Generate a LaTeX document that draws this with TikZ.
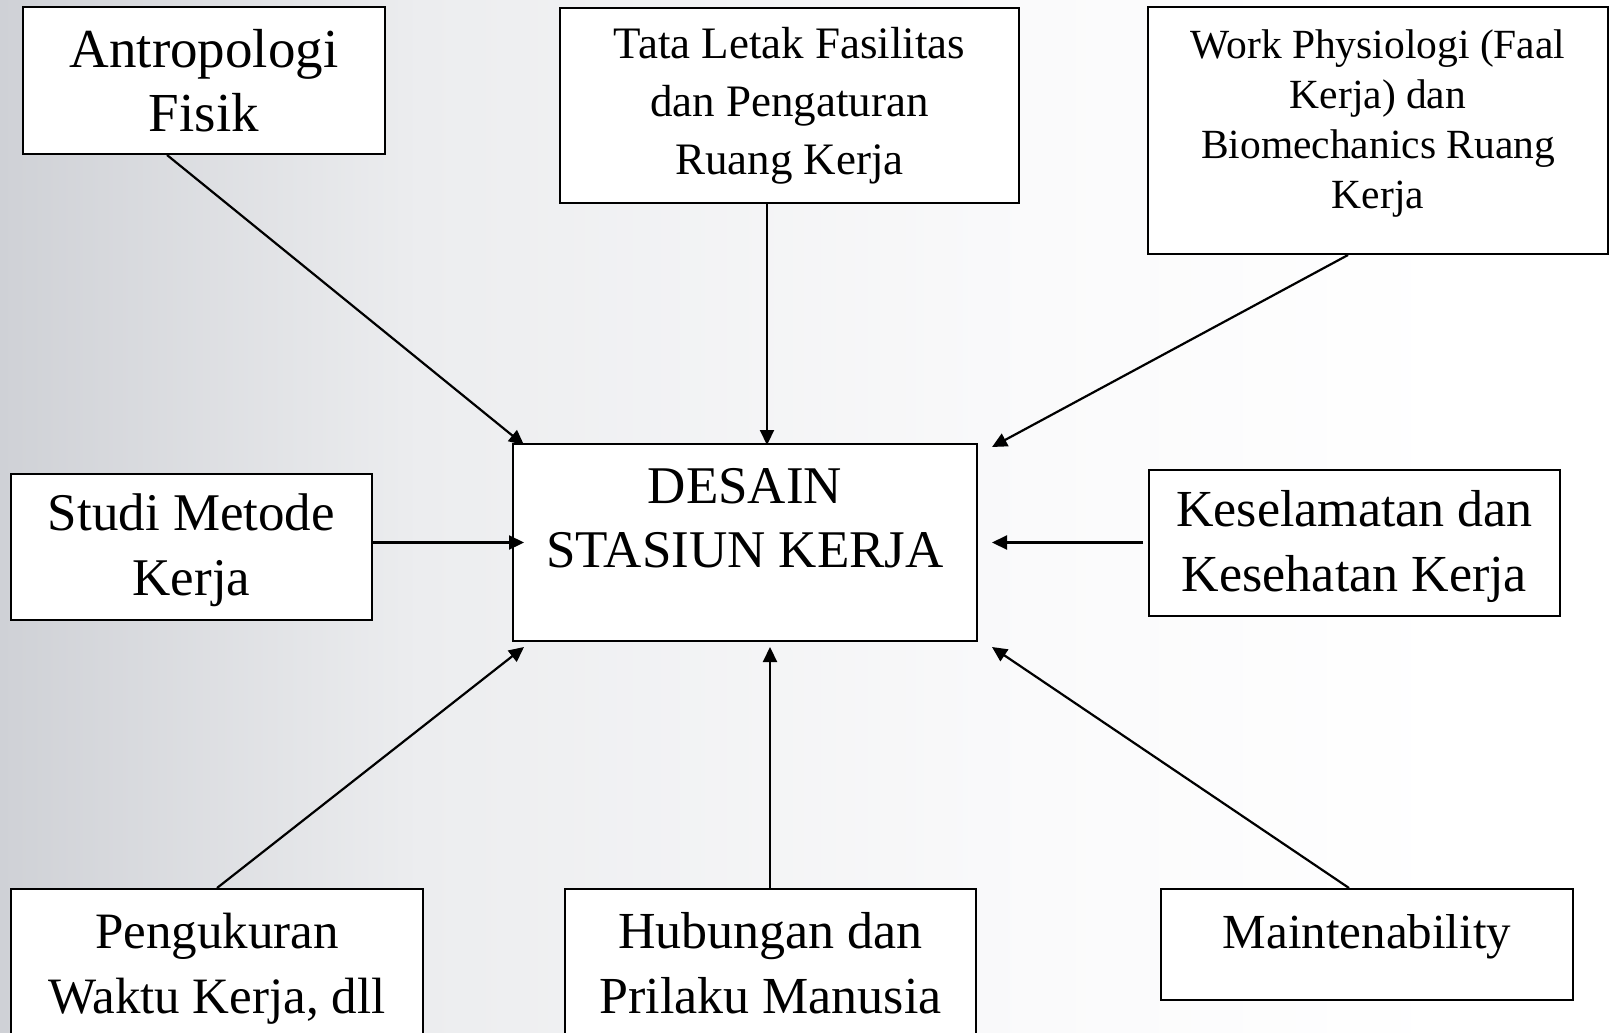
\documentclass[tikz,border=0pt]{standalone}
\usepackage{fontspec}
\setmainfont{Liberation Serif}
\usetikzlibrary{arrows.meta}
\definecolor{bgA}{RGB}{207,209,214}
\definecolor{bgB}{RGB}{236,237,239}
\definecolor{bgC}{RGB}{250,250,251}
\pgfdeclarehorizontalshading{bgfade}{100bp}{color(0bp)=(bgA); color(25bp)=(bgA); color(38bp)=(bgB); color(57bp)=(bgC); color(70bp)=(white); color(100bp)=(white)}
\newcommand{\cell}[4]{\parbox[c][#2pt][t]{#1pt}{\centering\rule{0pt}{#3pt}#4}}

\begin{document}
\begin{tikzpicture}[x=1pt,y=-1pt,>={Triangle[length=15pt,width=14pt]},
    box/.style={draw,fill=white,line width=2pt,inner sep=0pt},
    link/.style={->,line width=2.2pt}]

    \clip (0,0) rectangle (1614,1033);
    \shade[shading=bgfade] (0,0) rectangle (1614,1033);

    \node[box,font=\fontsize{55}{64}\selectfont] (antro) at (204,80.5) {\cell{362}{147}{60}{Antropologi\\Fisik}};
    \node[box,font=\fontsize{45}{58}\selectfont] (tata) at (789.5,105.5) {\cell{459}{195}{50}{Tata Letak Fasilitas\\dan Pengaturan\\Ruang Kerja}};
    \node[box,font=\fontsize{41.5}{50}\selectfont] (faal) at (1378,130.5) {\cell{460}{247}{51}{Work Physiologi (Faal\\Kerja) dan\\Biomechanics Ruang\\Kerja}};
    \node[box,font=\fontsize{53}{64}\selectfont] (desain) at (745,542.5) {\cell{464}{197}{59}{DESAIN\\STASIUN KERJA}};
    \node[box,font=\fontsize{53}{65}\selectfont] (studi) at (191.5,546.5) {\cell{361}{146}{57}{Studi Metode\\Kerja}};
    \node[box,font=\fontsize{52}{65}\selectfont] (k3) at (1354.5,542.5) {\cell{411}{146}{57}{Keselamatan dan\\Kesehatan Kerja}};
    \node[box,font=\fontsize{51}{65}\selectfont] (ukur) at (217,979) {\cell{412}{180}{59}{Pengukuran\\Waktu Kerja, dll}};
    \node[box,font=\fontsize{52}{65}\selectfont] (hub) at (770.5,979) {\cell{411}{180}{59}{Hubungan dan\\Prilaku Manusia}};
    \node[box,font=\fontsize{49}{65}\selectfont] (maint) at (1367,944.5) {\cell{412}{111}{59}{Maintenability}};

    \coordinate (toNW) at ([shift={(12,2)}]desain.north west);
    \coordinate (toN) at ([shift={(22,2)}]desain.north);
    \coordinate (toNE) at ([shift={(14,4)}]desain.north east);
    \coordinate (toW) at ([shift={(12,0)}]desain.west);
    \coordinate (toE) at ([shift={(14,0)}]desain.east);
    \coordinate (toSW) at ([shift={(12,5)}]desain.south west);
    \coordinate (toS) at ([shift={(25,5)}]desain.south);
    \coordinate (toSE) at ([shift={(14,5)}]desain.south east);

    \draw[link] ([shift={(-37,0)}]antro.south) -- (toNW);
    \draw[link] (tata.south -| toN) -- (toN);
    \draw[link] ([shift={(-30,0)}]faal.south) -- (toNE);
    \draw[link] (studi.east |- toW) -- (toW);
    \draw[link] ([shift={(-5,0)}]k3.west) -- (toE);
    \draw[link] (ukur.north) -- (toSW);
    \draw[link] (hub.north -| toS) -- (toS);
    \draw[link] ([shift={(-18,0)}]maint.north) -- (toSE);

\end{tikzpicture}
\end{document}
